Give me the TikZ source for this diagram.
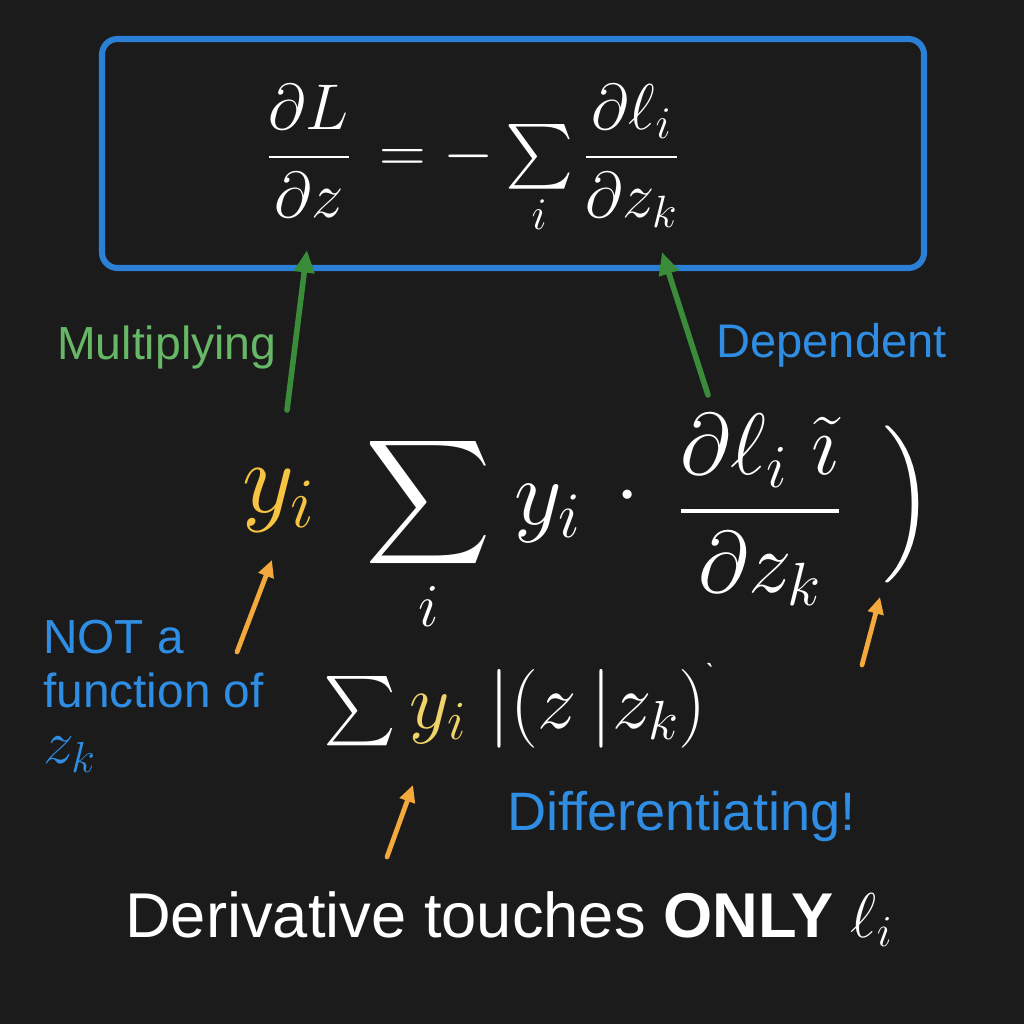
\RequirePackage{fix-cm}
\documentclass[tikz,border=0pt]{standalone}
\usepackage[no-math]{fontspec}
\setmainfont{Liberation Sans}
\DeclareFontFamily{OMX}{cmex}{}
\DeclareFontShape{OMX}{cmex}{m}{n}{<->cmex10}{}
\usetikzlibrary{arrows.meta}
\definecolor{bg}{HTML}{1B1B1B}
\definecolor{boxblue}{HTML}{2B7FD4}
\definecolor{txtblue}{HTML}{2F8DE4}
\definecolor{txtgreen}{HTML}{66B866}
\definecolor{arrgreen}{HTML}{3A8C3A}
\definecolor{arrorange}{HTML}{F4A93C}
\definecolor{gold}{HTML}{F6C342}
\definecolor{paleyellow}{HTML}{F0D468}
\tikzset{
  greenarrow/.style={draw=arrgreen, line width=4pt, line cap=round, -{Triangle[length=16pt,width=14pt]}},
  orangearrow/.style={draw=arrorange, line width=3.4pt, line cap=round, -{Triangle[length=12pt,width=11pt]}},
  lbl/.style={inner sep=0pt, anchor=base west},
  mathwhite/.style={inner sep=0pt, text=white, anchor=base west},
}
\begin{document}
\begin{tikzpicture}[x=0.025cm,y=-0.025cm]
\fill[bg] (0,0) rectangle (1024,1024);
\useasboundingbox (0,0) rectangle (1024,1024);
% top box
\draw[boxblue, line width=4.3pt, rounded corners=11pt] (102,39) rectangle (924,268);
\node[mathwhite] (topeq) at (267,173) {\fontsize{46}{50}\selectfont
  $\displaystyle \frac{\partial L}{\partial z} \,= -\textstyle\sum\limits_i \displaystyle\frac{\partial \ell_i}{\partial z_k}$};
% labels
\node[lbl, text=txtgreen] (mult) at (57,359) {\fontsize{33}{36}\selectfont Multiplying};
\node[lbl, text=txtblue] (dep) at (716,357) {\fontsize{33.5}{36}\selectfont Dependent};
\node[lbl, text=txtblue] (nota) at (43,653) {\fontsize{34}{36}\selectfont NOT a};
\node[lbl, text=txtblue] (funcof) at (43,707) {\fontsize{34}{36}\selectfont function of};
\node[lbl, text=txtblue] (zk) at (43,763) {\fontsize{44}{46}\selectfont $z_k$};
\node[lbl, text=txtblue] (diff) at (507,830) {\fontsize{38.5}{40}\selectfont Differentiating!};
\node[lbl, text=white] (deriv) at (125,937) {\fontsize{45}{48}\selectfont Derivative touches \textbf{ONLY} $\ell_i$};
% middle formula
\node[lbl, text=gold] (yi) at (242,512) {\fontsize{72}{76}\selectfont $y_i$};
\node[mathwhite] (midsum) at (365,524) {\fontsize{62}{66}\selectfont $\displaystyle\sum_i$};
\node[mathwhite] (midy) at (514,524) {\fontsize{66}{70}\selectfont $y_i$};
\node[inner sep=0pt, text=white] (middot) at (628,497) {\fontsize{62}{66}\selectfont $\cdot$};
\node[mathwhite] (midfrac) at (679,533) {\fontsize{62}{66}\selectfont
  $\displaystyle \frac{\partial \ell_i\;\tilde\imath}{\partial z_k}$};
\node[inner sep=0pt, text=white] (rparen) at (908,504) {\fontsize{62}{66}\selectfont $\left.\vrule height 65.5pt depth 34.5pt width 0pt\right)$};
% bottom formula
\node[mathwhite] (boteq) at (323,728) {\fontsize{56}{60}\selectfont
  $\scalebox{0.88}{$\sum$}\,\textcolor{paleyellow}{y_i}\;|(z\,|z_k)$\raisebox{28pt}{\fontsize{20}{20}\selectfont\`{}}};
% arrow anchors
\coordinate (g1s) at (287,410); \coordinate (g1e) at (307,250);
\coordinate (g2s) at (708,395); \coordinate (g2e) at (662,252);
\coordinate (o1s) at (237,652); \coordinate (o1e) at (272,560);
\coordinate (o2s) at (387,857); \coordinate (o2e) at (413,785);
\coordinate (o3s) at (862,665); \coordinate (o3e) at (880,597);
\draw[greenarrow] (g1s) -- (g1e);
\draw[greenarrow] (g2s) -- (g2e);
\draw[orangearrow] (o1s) -- (o1e);
\draw[orangearrow] (o2s) -- (o2e);
\draw[orangearrow] (o3s) -- (o3e);
\end{tikzpicture}
\end{document}
